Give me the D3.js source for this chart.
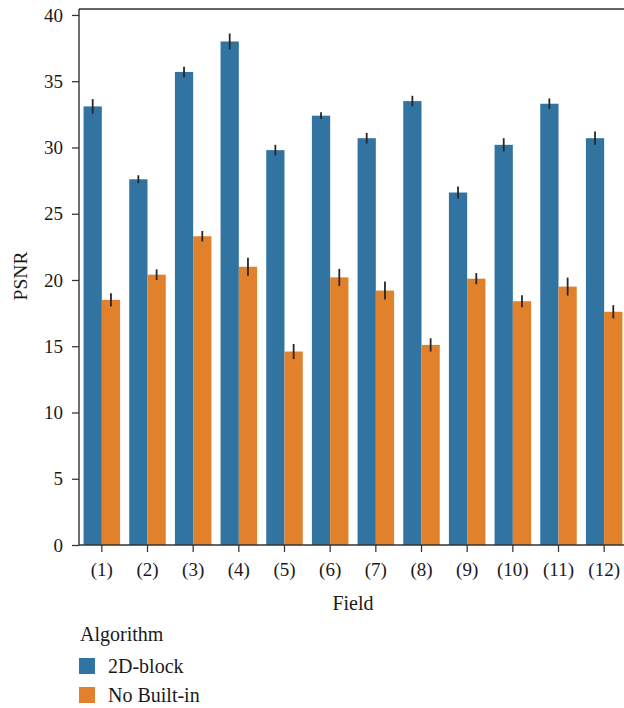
<!DOCTYPE html>
<html>
<head>
<meta charset="utf-8">
<script src="https://cdn.jsdelivr.net/npm/d3@7"></script>
<style>
  body { margin: 0; background: #fff; }
  svg { display: block; font-family: "Liberation Serif", "DejaVu Serif", serif; }
</style>
</head>
<body>
<svg id="chart" width="624" height="708"></svg>
<script>
const categories = ["(1)","(2)","(3)","(4)","(5)","(6)","(7)","(8)","(9)","(10)","(11)","(12)"];
const seriesNames = ["2D-block", "No Built-in"];
const blockValues = [33.1, 27.6, 35.7, 38.0, 29.8, 32.4, 30.7, 33.5, 26.6, 30.2, 33.3, 30.7];
const blockErrors = [0.55, 0.3, 0.4, 0.6, 0.4, 0.25, 0.4, 0.4, 0.45, 0.5, 0.4, 0.5];
const noBuiltinValues = [18.5, 20.4, 23.3, 21.0, 14.6, 20.2, 19.2, 15.1, 20.1, 18.4, 19.5, 17.6];
const noBuiltinErrors = [0.5, 0.4, 0.4, 0.68, 0.57, 0.64, 0.68, 0.5, 0.42, 0.45, 0.68, 0.5];
const yTicks = [0, 5, 10, 15, 20, 25, 30, 35, 40];
const colors = ["#3274a1", "#e1812c"];

const svg = d3.select("#chart");
const mLeft = 79, mRight = 627, mTop = 9, mBottom = 545;

const x = d3.scaleBand().domain(categories).range([mLeft, mRight]).padding(0);
const x1 = d3.scaleBand().domain(seriesNames)
  .range([x.bandwidth() * 0.1, x.bandwidth() * 0.9]).padding(0);
const y = d3.scaleLinear().domain([0, 40.45]).range([mBottom, mTop]);

const data = categories.map((c, i) => ({
  cat: c,
  vals: [
    { s: seriesNames[0], v: blockValues[i], e: blockErrors[i] },
    { s: seriesNames[1], v: noBuiltinValues[i], e: noBuiltinErrors[i] }
  ]
}));

const groups = svg.append("g").selectAll("g").data(data).join("g")
  .attr("transform", d => `translate(${x(d.cat)},0)`);

groups.selectAll("rect").data(d => d.vals).join("rect")
  .attr("x", d => x1(d.s))
  .attr("width", x1.bandwidth())
  .attr("y", d => y(d.v))
  .attr("height", d => y(0) - y(d.v))
  .attr("fill", (d, i) => colors[i]);

groups.selectAll("line.err").data(d => d.vals).join("line")
  .attr("class", "err")
  .attr("x1", d => x1(d.s) + x1.bandwidth() / 2)
  .attr("x2", d => x1(d.s) + x1.bandwidth() / 2)
  .attr("y1", d => y(d.v - d.e))
  .attr("y2", d => y(d.v + d.e))
  .attr("stroke", "#262626")
  .attr("stroke-width", 1.8);

// axes
const yAxis = svg.append("g").attr("transform", `translate(${mLeft},0)`)
  .call(d3.axisLeft(y).tickValues(yTicks).tickSize(7).tickPadding(9));
const xAxis = svg.append("g").attr("transform", `translate(0,${mBottom})`)
  .call(d3.axisBottom(x).tickSize(7).tickPadding(11));

[yAxis, xAxis].forEach(a => {
  a.select(".domain").remove();
  a.selectAll(".tick line").attr("stroke", "#333").attr("stroke-width", 1.25);
  a.selectAll(".tick text").attr("fill", "#1a1a1a")
    .style("font-family", '"Liberation Serif", serif').style("font-size", "19px");
});

// spines
const spine = svg.append("g").attr("stroke", "#333").attr("stroke-width", 1.4).attr("fill", "none");
spine.append("line").attr("x1", mLeft).attr("x2", mLeft).attr("y1", mTop).attr("y2", mBottom);
spine.append("line").attr("x1", mLeft).attr("x2", mRight).attr("y1", mTop).attr("y2", mTop);
spine.append("line").attr("x1", mLeft).attr("x2", mRight).attr("y1", mBottom).attr("y2", mBottom);
spine.append("line").attr("x1", mRight).attr("x2", mRight).attr("y1", mTop).attr("y2", mBottom);

// axis titles
svg.append("text").attr("x", 353).attr("y", 610)
  .attr("text-anchor", "middle").attr("fill", "#1a1a1a").style("font-size", "20px")
  .text("Field");
svg.append("text").attr("transform", `translate(27,276) rotate(-90)`)
  .attr("text-anchor", "middle").attr("fill", "#1a1a1a").style("font-size", "19.5px")
  .text("PSNR");

// legend
const lg = svg.append("g");
lg.append("text").attr("x", 80).attr("y", 641).attr("fill", "#1a1a1a")
  .style("font-size", "20px").text("Algorithm");
seriesNames.forEach((s, i) => {
  const yy = 658 + i * 29;
  lg.append("rect").attr("x", 79).attr("y", yy).attr("width", 16).attr("height", 16)
    .attr("fill", colors[i]);
  lg.append("text").attr("x", 108).attr("y", yy + 15).attr("fill", "#1a1a1a")
    .style("font-size", "20px").text(s);
});
</script>
</body>
</html>
